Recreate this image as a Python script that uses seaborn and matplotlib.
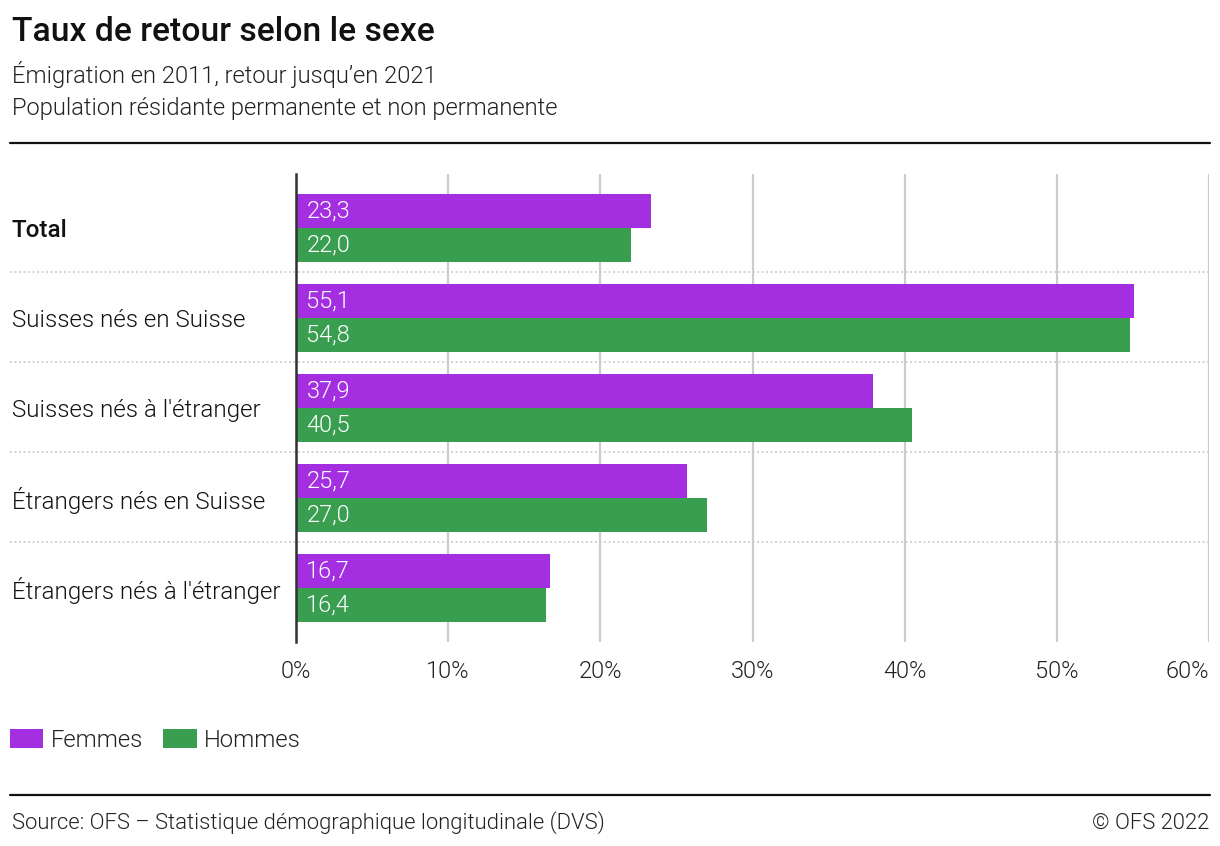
import matplotlib
matplotlib.use("Agg")
import matplotlib.pyplot as plt
import matplotlib.transforms as mtransforms
from matplotlib.patches import Patch
import seaborn as sns
import pandas as pd

categories = ["Total", "Suisses nés en Suisse", "Suisses nés à l'étranger",
              "Étrangers nés en Suisse", "Étrangers nés à l'étranger"]
femmes = [23.3, 55.1, 37.9, 25.7, 16.7]
hommes = [22.0, 54.8, 40.5, 27.0, 16.4]
series = ["Femmes", "Hommes"]
colors = ["#a32fe0", "#3a9e50"]
xticks = [0, 10, 20, 30, 40, 50, 60]

df = pd.DataFrame({
    "cat": categories * 2,
    "sexe": ["Femmes"] * len(categories) + ["Hommes"] * len(categories),
    "val": femmes + hommes,
})

sns.set_style("white")
plt.rcParams["font.family"] = ["Roboto", "DejaVu Sans"]
LIGHT = 300

fig = plt.figure(figsize=(12.2, 8.46), dpi=100)
W, H = 1220, 846
# axes box in pixels: x 296..1209, y 174..642
ax = fig.add_axes([296 / W, 1 - 642 / H, (1209 - 296) / W, (642 - 174) / H])

sns.barplot(data=df, y="cat", x="val", hue="sexe", orient="h", order=categories,
            hue_order=series, palette=colors, width=0.756, gap=0, ax=ax,
            legend=False, saturation=1, edgecolor="none", linewidth=0)

ax.set_xlim(0, 60)
ax.set_ylim(4.5 + 9 / 90, -0.5 - 9 / 90)
ax.set_xticks(xticks)
ax.set_xticklabels([f"{t}%" for t in xticks])
ax.tick_params(axis="x", length=0, pad=13, labelsize=17, colors="#222222")
for lab in ax.get_xticklabels():
    lab.set_fontweight(LIGHT)
ax.get_xticklabels()[-1].set_ha("right")
ax.tick_params(axis="y", length=0, pad=(296 - 12) * 72 / 100)
ax.set_yticks(range(len(categories)))
ax.set_yticklabels(categories, fontsize=17.4, ha="left", color="#111111", fontweight=LIGHT)
ax.get_yticklabels()[0].set_fontweight("medium")
ax.set_xlabel("")
ax.set_ylabel("")

ax.grid(axis="x", color="#cccccc", linewidth=1.6)
ax.set_axisbelow(True)
for s in ["top", "right", "bottom"]:
    ax.spines[s].set_visible(False)
ax.spines["left"].set_color("#333333")
ax.spines["left"].set_linewidth(1.8)
ax.spines["left"].set_zorder(5)

# value labels at the start of each bar
for container, vals in zip(ax.containers, [femmes, hommes]):
    for bar, v in zip(container, vals):
        ax.annotate(f"{v:.1f}".replace(".", ","), (0, bar.get_y() + bar.get_height() / 2),
                    xytext=(7.5, 0), textcoords="offset points", ha="left", va="center",
                    fontsize=17, fontweight=LIGHT, color="white")

# dotted separators between groups
trans = mtransforms.blended_transform_factory(fig.transFigure, ax.transData)
for i in range(len(categories) - 1):
    ax.plot([10 / W, 1210 / W], [i + 0.49, i + 0.49], transform=trans, clip_on=False,
            color="#cccccc", linestyle=(0, (1.2, 1.5)), linewidth=1.2)

# titles
fig.text(12 / W, 1 - 32 / H, "Taux de retour selon le sexe", fontsize=24.2, fontweight="medium",
         va="center", ha="left", color="#111111")
fig.text(12 / W, 1 - 75 / H, "Émigration en 2011, retour jusqu’en 2021", fontsize=17.1,
         fontweight=LIGHT, va="center", ha="left", color="#222222")
fig.text(12 / W, 1 - 109 / H, "Population résidante permanente et non permanente", fontsize=17.1,
         fontweight=LIGHT, va="center", ha="left", color="#222222")
fig.add_artist(plt.Line2D([10 / W, 1210 / W], [1 - 143 / H, 1 - 143 / H], color="#111111", linewidth=1.6))

# legend
handles = [Patch(facecolor=c, edgecolor="none", label=s) for s, c in zip(series, colors)]
leg = fig.legend(handles=handles, loc="center left", bbox_to_anchor=(10 / W, 1 - 740 / H), ncol=2,
                 frameon=False, fontsize=17.2, handlelength=1.4, handleheight=0.85, handletextpad=0.3,
                 columnspacing=0.85, borderpad=0, borderaxespad=0, labelcolor="#222222")
for t in leg.get_texts():
    t.set_fontweight(LIGHT)

# footer
fig.add_artist(plt.Line2D([10 / W, 1210 / W], [1 - 795 / H, 1 - 795 / H], color="#111111", linewidth=1.6))
fig.text(12 / W, 1 - 823 / H, "Source: OFS – Statistique démographique longitudinale (DVS)",
         fontsize=15.8, fontweight=LIGHT, va="center", ha="left", color="#222222")
fig.text(1209 / W, 1 - 823 / H, "© OFS 2022", fontsize=15.8, fontweight=LIGHT,
         va="center", ha="right", color="#222222")

fig.savefig("out.png", dpi=100)
